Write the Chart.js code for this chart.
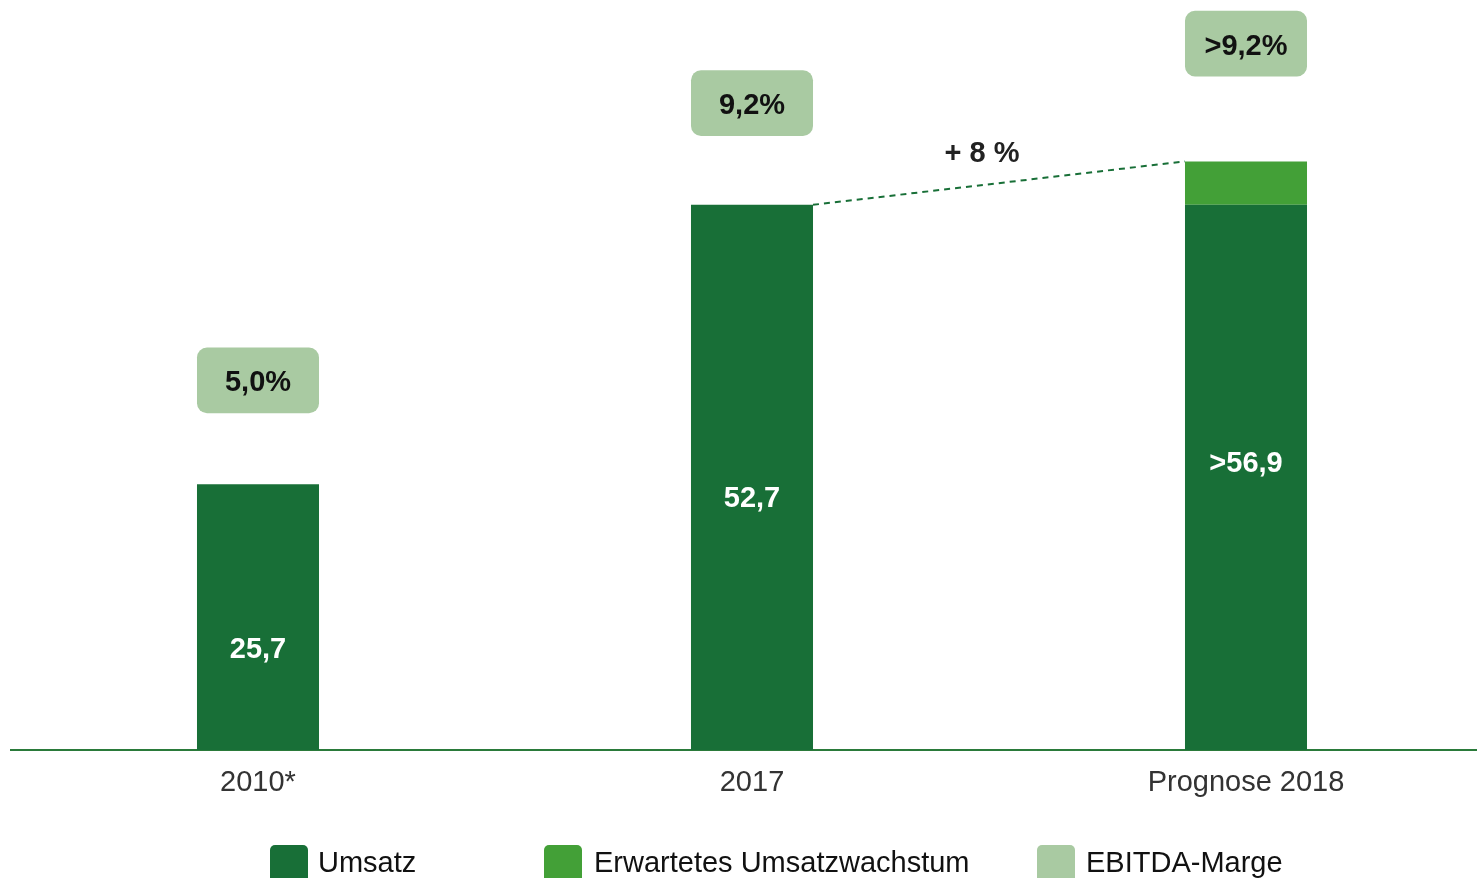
<!DOCTYPE html>
<html>
<head>
<meta charset="utf-8">
<script src="https://cdn.jsdelivr.net/npm/chart.js@4.4.1/dist/chart.umd.min.js"></script>
<style>
  body { margin: 0; width: 1477px; height: 878px; overflow: hidden; background: #fff; font-family: "Liberation Sans", Arial, sans-serif; }
  #wrap { position: relative; width: 1500px; height: 878px; }
  .lg-box { position: absolute; top: 845px; width: 38px; height: 38px; border-radius: 5px; }
  .lg-text { position: absolute; top: 848px; font-size: 29px; line-height: 29px; color: #111; white-space: nowrap; }
</style>
</head>
<body>
<div id="wrap">
  <canvas id="chart" width="1500" height="878"></canvas>
  <div class="lg-box" style="left:270px;background:#186f37"></div>
  <div class="lg-text" style="left:318px">Umsatz</div>
  <div class="lg-box" style="left:544px;background:#43a037"></div>
  <div class="lg-text" style="left:594px">Erwartetes Umsatzwachstum</div>
  <div class="lg-box" style="left:1037px;background:#a9caa2"></div>
  <div class="lg-text" style="left:1086px">EBITDA-Marge</div>
</div>
<script>
// data
const categories = ['2010*', '2017', 'Prognose 2018'];
const umsatz = [25.7, 52.7, 52.7];
const wachstum = [null, null, 4.2];
const umsatzLabels = ['25,7', '52,7', '>56,9'];
const ebitdaLabels = ['5,0%', '9,2%', '>9,2%'];
const growthLabel = '+ 8 %';

const DARK = '#186f37', MID = '#43a037', LIGHT = '#a9caa2';

// layout of the margin boxes above the bars (value units)
const boxGap = [6.85, 6.65, 8.2];
const boxHeight = 6.35;
const totals = umsatz.map((v, i) => v + (wachstum[i] || 0));
const ebitdaBoxes = totals.map((t, i) => [t + boxGap[i], t + boxGap[i] + boxHeight]);

const labelOffset = [33, 22, 8];

const labelPlugin = {
    id: 'labels',
    afterDatasetsDraw(chart) {
        const ctx = chart.ctx;
        const m0 = chart.getDatasetMeta(0);
        const m1 = chart.getDatasetMeta(1);
        const m2 = chart.getDatasetMeta(2);
        ctx.save();
        ctx.textAlign = 'center';
        ctx.textBaseline = 'middle';
        ctx.font = 'bold 29px "Liberation Sans", Arial, sans-serif';

        // values inside the bars
        m0.data.forEach((bar, i) => {
            const top = (m1.data[i] && wachstum[i] != null) ? m1.data[i].y : bar.y;
            const mid = (top + bar.base) / 2 + labelOffset[i];
            ctx.fillStyle = '#fff';
            ctx.fillText(umsatzLabels[i], bar.x, mid);
        });

        // margin labels in the boxes
        m2.data.forEach((bar, i) => {
            ctx.fillStyle = '#111';
            ctx.fillText(ebitdaLabels[i], bar.x, (bar.y + bar.base) / 2 + 3);
        });

        // dashed growth line
        const a = m0.data[1];
        const b = m1.data[2];
        const x1 = a.x + a.width / 2, y1 = a.y;
        const x2 = b.x - b.width / 2, y2 = b.y;
        ctx.beginPath();
        ctx.setLineDash([6, 5]);
        ctx.lineWidth = 2;
        ctx.strokeStyle = DARK;
        ctx.moveTo(x1, y1);
        ctx.lineTo(x2, y2);
        ctx.stroke();
        ctx.setLineDash([]);
        ctx.fillStyle = '#222';
        ctx.fillText(growthLabel, (x1 + x2) / 2 - 17, (y1 + y2) / 2 - 29);
        ctx.restore();
    }
};

new Chart(document.getElementById('chart'), {
    type: 'bar',
    data: {
        labels: categories,
        datasets: [{
            label: 'Umsatz',
            data: umsatz,
            backgroundColor: DARK
        }, {
            label: 'Erwartetes Umsatzwachstum',
            data: wachstum,
            backgroundColor: MID
        }, {
            label: 'EBITDA-Marge',
            data: ebitdaBoxes,
            backgroundColor: LIGHT,
            borderRadius: 10,
            borderSkipped: false,
            stack: 'marge',
            grouped: false
        }]
    },
    options: {
        responsive: false,
        animation: false,
        layout: { padding: { left: 11, right: 7, top: 0, bottom: 0 } },
        categoryPercentage: 0.247,
        barPercentage: 1,
        scales: {
            x: {
                stacked: true,
                grid: { display: false, drawTicks: false },
                border: { display: true, color: '#2a7a3a', width: 2 },
                ticks: {
                    color: '#333',
                    padding: 16,
                    font: { size: 29, family: '"Liberation Sans", Arial, sans-serif' }
                },
                afterFit(scale) { scale.height = 128; }
            },
            y: {
                stacked: true,
                display: false,
                min: 0,
                max: 72.5
            }
        },
        plugins: {
            legend: { display: false },
            tooltip: { enabled: false }
        }
    },
    plugins: [labelPlugin]
});
</script>
</body>
</html>
